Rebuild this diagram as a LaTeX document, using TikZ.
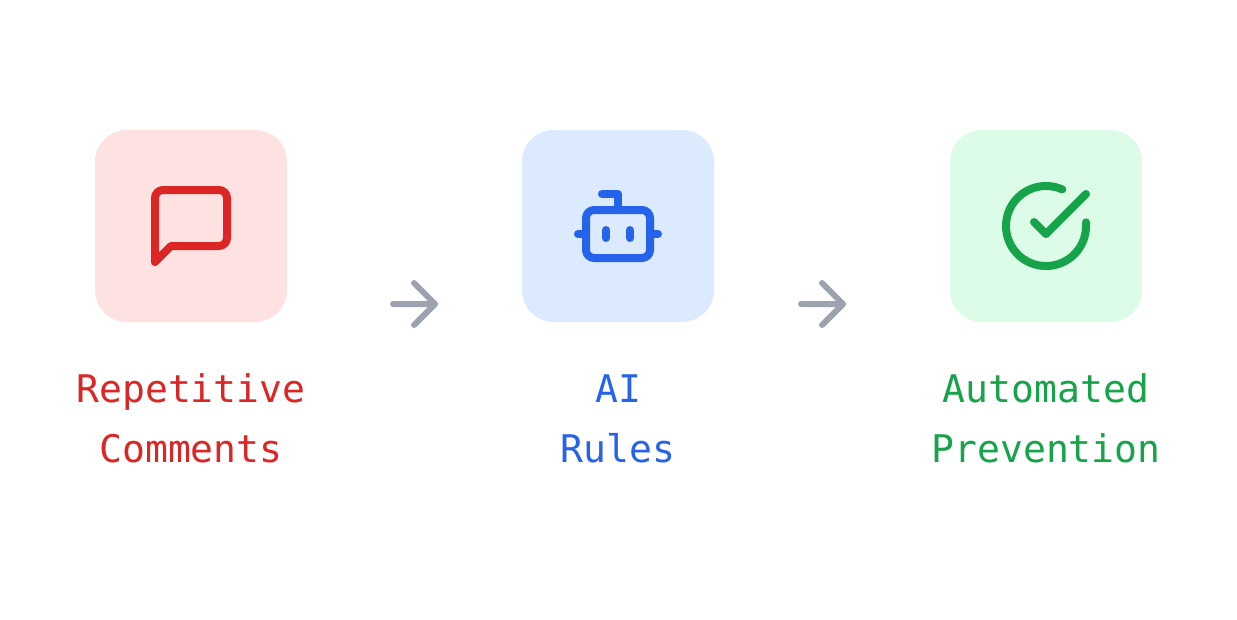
\documentclass[tikz,border=0pt]{standalone}
\usepackage{fontspec}
\setmonofont{DejaVu Sans Mono}
\definecolor{cr}{HTML}{DC2626}
\definecolor{cb}{HTML}{2563EB}
\definecolor{cg}{HTML}{16A34A}
\definecolor{br}{HTML}{FEE2E2}
\definecolor{bb}{HTML}{DBEAFE}
\definecolor{bg}{HTML}{DCFCE7}
\definecolor{ga}{HTML}{9CA3AF}
\tikzset{
 x=0.75pt,y=-0.75pt,
 card/.style={minimum width=144pt,minimum height=144pt,rounded corners=24pt,inner sep=0pt,outer sep=0pt},
 ico/.style={line width=6pt,line cap=round,line join=round},
 arr/.style={line width=4.5pt,line cap=round,line join=round,draw=ga},
 lab/.style={font=\ttfamily\fontsize{28.55pt}{45pt}\selectfont,align=center,inner sep=0pt,anchor=center},
}
\begin{document}
\begin{tikzpicture}
\useasboundingbox (0,0) rectangle (1237,619);
\fill[white] (0,0) rectangle (1237,619);
\node[card,fill=br] (c1) at (191,226) {};
\node[card,fill=bb] (c2) at (618,226) {};
\node[card,fill=bg] (c3) at (1046,226) {};
% message icon
\draw[ico,draw=cr] (227,238) .. controls (227,242.4) and (223.4,246) .. (219,246) -- (171,246) -- (155,262) -- (155,198) .. controls (155,193.6) and (158.6,190) .. (163,190) -- (219,190) .. controls (223.4,190) and (227,193.6) .. (227,198) -- cycle;
% bot icon
\begin{scope}[shift={(570,178)}]
\draw[ico,draw=cb] (48,32) -- (48,16) -- (32,16);
\draw[ico,draw=cb,rounded corners=6pt] (16,32) rectangle (80,80);
\draw[ico,draw=cb] (8,56) -- (16,56) (80,56) -- (88,56) (60,52) -- (60,60) (36,52) -- (36,60);
\end{scope}
% check icon
\begin{scope}[shift={(998,178)}]
\draw[ico,draw=cg] (88,44.32) -- plot[domain=0:294,samples=120] ({48+40*cos(\x)},{48+40*sin(\x)});
\draw[ico,draw=cg] (88,16) -- (48,56.04) -- (36,44.04);
\end{scope}
% arrows
\coordinate (a1s) at (393,304); \coordinate (a1e) at (435,304);
\coordinate (a2s) at (801,304); \coordinate (a2e) at (843,304);
\draw[arr] (a1s) -- (a1e) (414,283) -- (a1e) -- (414,325);
\draw[arr] (a2s) -- (a2e) (822,283) -- (a2e) -- (822,325);
\node[lab,text=cr] (t1) at (191,418.5) {Repetitive\\Comments};
\node[lab,text=cb] (t2) at (618,419) {AI\\Rules};
\node[lab,text=cg] (t3) at (1046,418.5) {Automated\\Prevention};
\end{tikzpicture}
\end{document}
